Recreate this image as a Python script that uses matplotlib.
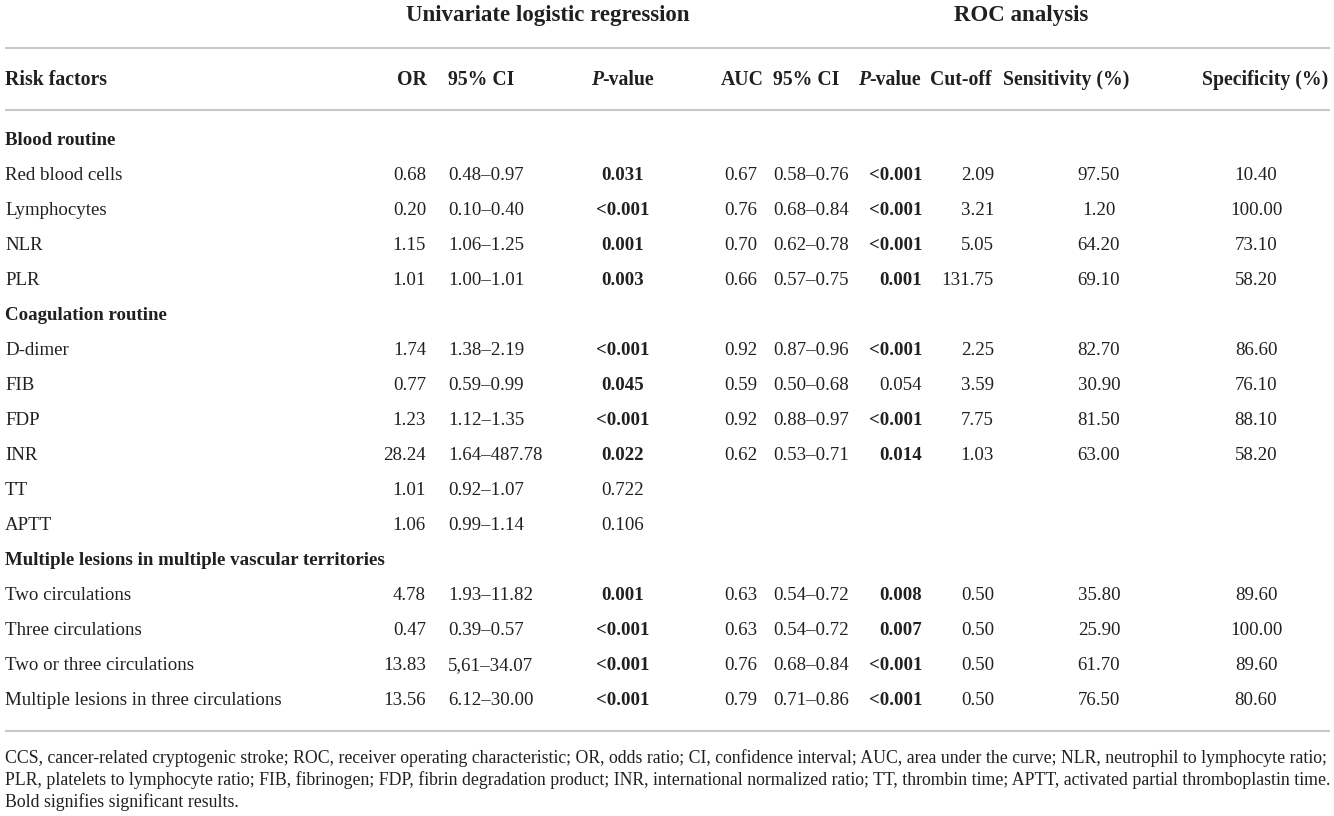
import matplotlib
matplotlib.use("Agg")
import matplotlib.pyplot as plt

# ---------------- data ----------------
sections = ["Blood routine", "Coagulation routine",
            "Multiple lesions in multiple vascular territories"]
factors = ["Red blood cells", "Lymphocytes", "NLR", "PLR",
           "D-dimer", "FIB", "FDP", "INR", "TT", "APTT",
           "Two circulations", "Three circulations", "Two or three circulations",
           "Multiple lesions in three circulations"]
factor_section = [0, 0, 0, 0, 1, 1, 1, 1, 1, 1, 2, 2, 2, 2]

or_vals = ["0.68", "0.20", "1.15", "1.01", "1.74", "0.77", "1.23", "28.24", "1.01", "1.06",
           "4.78", "0.47", "13.83", "13.56"]
or_ci = ["0.48–0.97", "0.10–0.40", "1.06–1.25", "1.00–1.01", "1.38–2.19", "0.59–0.99",
         "1.12–1.35", "1.64–487.78", "0.92–1.07", "0.99–1.14", "1.93–11.82", "0.39–0.57",
         "5,61–34.07", "6.12–30.00"]
or_p = ["0.031", "<0.001", "0.001", "0.003", "<0.001", "0.045", "<0.001", "0.022", "0.722",
        "0.106", "0.001", "<0.001", "<0.001", "<0.001"]
auc = ["0.67", "0.76", "0.70", "0.66", "0.92", "0.59", "0.92", "0.62", "", "",
       "0.63", "0.63", "0.76", "0.79"]
auc_ci = ["0.58–0.76", "0.68–0.84", "0.62–0.78", "0.57–0.75", "0.87–0.96", "0.50–0.68",
          "0.88–0.97", "0.53–0.71", "", "", "0.54–0.72", "0.54–0.72", "0.68–0.84", "0.71–0.86"]
auc_p = ["<0.001", "<0.001", "<0.001", "0.001", "<0.001", "0.054", "<0.001", "0.014", "", "",
         "0.008", "0.007", "<0.001", "<0.001"]
cutoff = ["2.09", "3.21", "5.05", "131.75", "2.25", "3.59", "7.75", "1.03", "", "",
          "0.50", "0.50", "0.50", "0.50"]
sensitivity = ["97.50", "1.20", "64.20", "69.10", "82.70", "30.90", "81.50", "63.00", "", "",
               "35.80", "25.90", "61.70", "76.50"]
specificity = ["10.40", "100.00", "73.10", "58.20", "86.60", "76.10", "88.10", "58.20", "", "",
               "89.60", "100.00", "89.60", "80.60"]

footnote = [
    "CCS, cancer-related cryptogenic stroke; ROC, receiver operating characteristic; OR, odds ratio; "
    "CI, confidence interval; AUC, area under the curve; NLR, neutrophil to lymphocyte ratio;",
    "PLR, platelets to lymphocyte ratio; FIB, fibrinogen; FDP, fibrin degradation product; "
    "INR, international normalized ratio; TT, thrombin time; APTT, activated partial thromboplastin time.",
    "Bold signifies significant results.",
]

# ---------------- style ----------------
FONT = "Liberation Serif"
INK = "#231f20"
RULE = "#c8c8c8"
BODY = 13.6
HEAD = 14.2
TITLE = 16.5
W, H = 1334, 816

fig = plt.figure(figsize=(W / 100, H / 100), dpi=100)
ax = fig.add_axes([0, 0, 1, 1])
ax.set_xlim(0, W)
ax.set_ylim(H, 0)
ax.axis("off")
renderer = fig.canvas.get_renderer()


def put(x, y, s, ha="left", bold=False, size=BODY, italic=False):
    # y is the visual middle of the line; anchor on the baseline so rows stay level
    return ax.text(x, y + size * 0.36, s, ha=ha, va="baseline", family=FONT, color=INK,
                   fontsize=size, fontweight="bold" if bold else "normal",
                   fontstyle="italic" if italic else "normal")


def width(t):
    return t.get_window_extent(renderer).width


def p_header(x, y, ha):
    # bold italic "P" followed by bold "-value"
    a = put(0, y, "P", bold=True, italic=True, size=HEAD)
    b = put(0, y, "-value", bold=True, size=HEAD)
    wa, wb = width(a), width(b)
    if ha == "center":
        x0 = x - (wa + wb) / 2
    else:
        x0 = x - (wa + wb)
    a.set_x(x0)
    b.set_x(x0 + wa - 1)


def significant(p):
    return p.startswith("<") or (p != "" and float(p) < 0.05)


# group titles
put(548, 15, "Univariate logistic regression", ha="center", bold=True, size=TITLE)
put(1021, 15, "ROC analysis", ha="center", bold=True, size=TITLE)

# rules
for yr in (48, 110, 731):
    ax.plot([5, 1330], [yr, yr], color=RULE, lw=1.5, solid_capstyle="butt")

# column headers
hy = 80
put(5, hy, "Risk factors", bold=True, size=HEAD)
put(427, hy, "OR", ha="right", bold=True, size=HEAD)
put(448, hy, "95% CI", bold=True, size=HEAD)
p_header(623, hy, "center")
put(742, hy, "AUC", ha="center", bold=True, size=HEAD)
put(773, hy, "95% CI", bold=True, size=HEAD)
p_header(922, hy, "right")
put(930, hy, "Cut-off", bold=True, size=HEAD)
put(1003, hy, "Sensitivity (%)", bold=True, size=HEAD)
put(1328, hy, "Specificity (%)", ha="right", bold=True, size=HEAD)

# body rows
y = 140
step = 35
last = -1
for i, name in enumerate(factors):
    if factor_section[i] != last:
        last = factor_section[i]
        put(5, y, sections[last], bold=True)
        y += step
    put(5, y, name)
    put(426, y, or_vals[i], ha="right")
    put(448, y, or_ci[i])
    put(623, y, or_p[i], ha="center", bold=significant(or_p[i]))
    put(741, y, auc[i], ha="center")
    put(773, y, auc_ci[i])
    put(922, y, auc_p[i], ha="right", bold=significant(auc_p[i]))
    put(994, y, cutoff[i], ha="right")
    put(1099, y, sensitivity[i], ha="center")
    put(1256, y, specificity[i], ha="center")
    y += step

# footnote, sized so the longest line spans the table width
probe = [put(5, 0, line, size=12) for line in footnote[:2]]
fs = 12 * 1322 / max(width(t) for t in probe)
for t in probe:
    t.remove()
for k, line in enumerate(footnote):
    put(5, 758 + 22 * k, line, size=fs)

fig.savefig("out.png", dpi=100)
